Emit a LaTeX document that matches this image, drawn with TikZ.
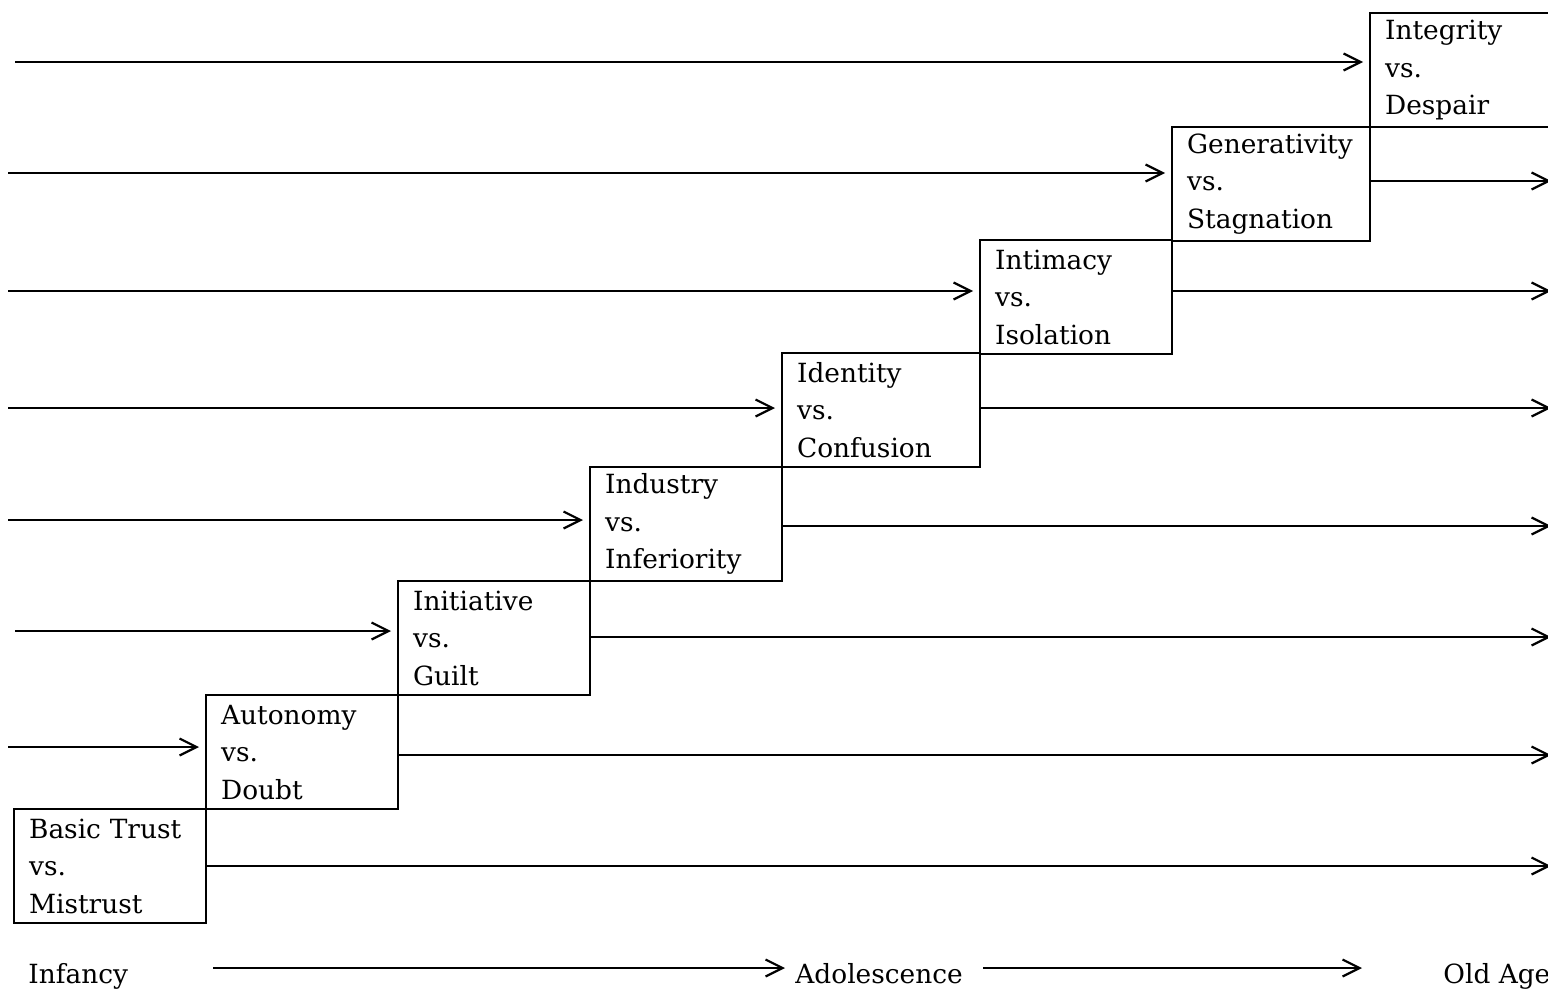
\documentclass[tikz,border=0pt]{standalone}
\usepackage{fontspec}
\setmainfont{DejaVu Serif}
\usepackage{tikz}
\usetikzlibrary{arrows.meta}
\tikzstyle{stage} = [rectangle, draw, line width=1.1pt, anchor=north west, inner xsep=7.5pt, inner ysep=0pt, text width=81pt, minimum height=57pt, align=left, font=\fontsize{13.2pt}{18.75pt}\selectfont]
\tikzstyle{wide} = [text width=84pt]
\tikzstyle{arr} = [line width=1.1pt, -{Straight Barb[length=8.5pt,width=8.5pt]}]
\tikzstyle{age} = [inner sep=0pt, anchor=base west, font=\fontsize{13.2pt}{18.75pt}\selectfont]

\begin{document}
\begin{tikzpicture}[x=0.5pt,y=-0.5pt]
		\useasboundingbox (0,0) rectangle (1548,991);
		% the eight stages
		\node[stage] (s1) at (13,808) {Basic Trust\\vs.\\Mistrust};
		\node[stage] (s2) at (205,694) {Autonomy\\vs.\\Doubt};
		\node[stage] (s3) at (397,580) {Initiative\\vs.\\Guilt};
		\node[stage] (s4) at (589,466) {Industry\\vs.\\Inferiority};
		\node[stage,wide] (s5) at (781,352) {Identity\\vs.\\Confusion};
		\node[stage] (s6) at (979,239) {Intimacy\\vs.\\Isolation};
		\node[stage,wide] (s7) at (1171,126) {Generativity\\vs.\\Stagnation};
		\node[stage] (s8) at (1369,12) {Integrity\\vs.\\Despair};
		% free ends of the arrows
		\foreach \n/\x/\y in {2/8/747,3/15/631,4/8/520,5/8/408,6/8/291,7/8/173,8/15/62}
		\coordinate (l\n) at (\x,\y);
		\foreach \n/\y in {1/866,2/755,3/637,4/526,5/408,6/291,7/181}
		\coordinate (r\n) at (1551,\y);
		\foreach \n in {2,...,8}
		\draw[arr, shorten >=3pt] (l\n) -- (l\n -| s\n.west);
		\foreach \n in {1,...,7}
		\draw[arr] (s\n.east |- r\n) -- (r\n);
		% age axis
		\node[age] (infancy) at (28,983) {Infancy};
		\node[age] (adolescence) at (795,983) {Adolescence};
		\node[age] (oldage) at (1443,983) {Old Age};
		\coordinate (a1) at (213,968);
		\coordinate (a2) at (1362,968);
		\draw[arr, shorten >=5pt] (a1) -- (a1 -| adolescence.west);
		\draw[arr, shorten <=10pt] (adolescence.east |- a2) -- (a2);
	\end{tikzpicture}
\end{document}
